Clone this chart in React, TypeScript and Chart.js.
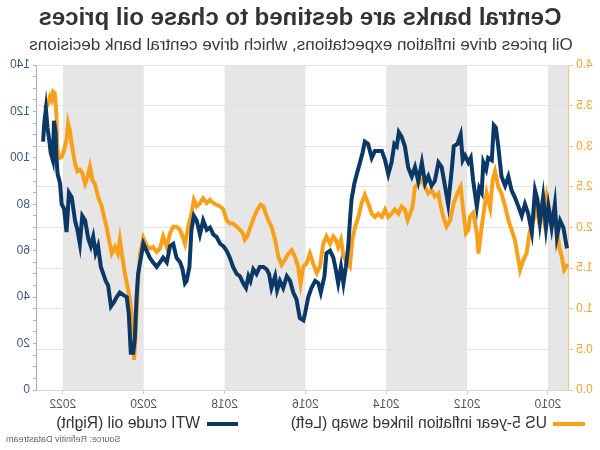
import React, { useEffect, useRef } from 'react';
import { Chart, registerables } from 'chart.js';

Chart.register(...registerables);

const titleText = 'Central banks are destined to chase oil prices';
const subtitleText = 'Oil prices drive inflation expectations, which drive central bank decisions';
const swapLabel = 'US 5-year inflation linked swap (Left)';
const oilLabel = 'WTI crude oil (Right)';
const sourceText = 'Source: Refinitiv Datastream';

const xTickYears = [2010, 2012, 2014, 2016, 2018, 2020, 2022];
const shadedPeriods = [[2008, 2010], [2012, 2014], [2016, 2018], [2020, 2022]];

const swapYears = [2009.51, 2009.6, 2009.66, 2009.72, 2009.78, 2009.87, 2009.95, 2010.03, 2010.1, 2010.16, 2010.24, 2010.28, 2010.36, 2010.45, 2010.53, 2010.61, 2010.69, 2010.76, 2010.82, 2010.9, 2010.98, 2011.06, 2011.15, 2011.23, 2011.31, 2011.37, 2011.43, 2011.52, 2011.58, 2011.64, 2011.72, 2011.76, 2011.85, 2011.93, 2011.97, 2012.03, 2012.09, 2012.16, 2012.24, 2012.33, 2012.42, 2012.51, 2012.59, 2012.67, 2012.71, 2012.8, 2012.88, 2012.96, 2013.04, 2013.12, 2013.21, 2013.29, 2013.35, 2013.41, 2013.47, 2013.54, 2013.62, 2013.7, 2013.79, 2013.87, 2013.95, 2014.03, 2014.11, 2014.2, 2014.28, 2014.36, 2014.45, 2014.53, 2014.61, 2014.69, 2014.77, 2014.84, 2014.9, 2014.98, 2015.06, 2015.12, 2015.19, 2015.25, 2015.31, 2015.39, 2015.48, 2015.56, 2015.64, 2015.72, 2015.81, 2015.89, 2015.97, 2016.05, 2016.12, 2016.18, 2016.26, 2016.34, 2016.42, 2016.51, 2016.59, 2016.67, 2016.75, 2016.84, 2016.92, 2016.98, 2017.04, 2017.11, 2017.19, 2017.27, 2017.36, 2017.44, 2017.5, 2017.55, 2017.62, 2017.7, 2017.79, 2017.87, 2017.95, 2018.03, 2018.11, 2018.2, 2018.28, 2018.36, 2018.44, 2018.53, 2018.61, 2018.69, 2018.76, 2018.82, 2018.9, 2018.98, 2019.04, 2019.1, 2019.19, 2019.27, 2019.35, 2019.43, 2019.52, 2019.6, 2019.68, 2019.77, 2019.85, 2019.93, 2020.01, 2020.09, 2020.14, 2020.18, 2020.22, 2020.24, 2020.28, 2020.34, 2020.4, 2020.47, 2020.53, 2020.59, 2020.64, 2020.71, 2020.79, 2020.86, 2020.92, 2020.98, 2021.04, 2021.13, 2021.21, 2021.27, 2021.33, 2021.39, 2021.45, 2021.52, 2021.58, 2021.64, 2021.7, 2021.77, 2021.83, 2021.87, 2021.91, 2021.97, 2022.03, 2022.1, 2022.14, 2022.16, 2022.2, 2022.24, 2022.28, 2022.32, 2022.36, 2022.4, 2022.44, 2022.47];
const swapValues = [1.55, 1.48, 1.64, 1.76, 1.97, 2.09, 2.18, 2.38, 2.09, 2.26, 2.13, 2.26, 2.09, 1.95, 1.68, 1.6, 1.48, 1.68, 1.85, 1.97, 2.09, 2.26, 2.42, 2.5, 2.69, 2.58, 2.24, 2.42, 2.22, 2.01, 1.68, 1.93, 2.18, 2.13, 1.97, 1.93, 2.18, 2.5, 2.42, 2.3, 2.09, 2.01, 2.13, 2.3, 2.42, 2.38, 2.46, 2.42, 2.5, 2.58, 2.54, 2.5, 2.26, 2.17, 2.09, 2.22, 2.26, 2.17, 2.22, 2.17, 2.13, 2.22, 2.13, 2.17, 2.13, 2.17, 2.3, 2.4, 2.3, 2.13, 2.01, 1.85, 1.52, 1.58, 1.64, 1.85, 1.76, 1.85, 1.89, 1.8, 1.89, 1.8, 1.52, 1.44, 1.56, 1.68, 1.56, 1.52, 1.31, 1.52, 1.64, 1.72, 1.68, 1.6, 1.54, 1.64, 1.85, 2.01, 2.09, 2.17, 2.26, 2.28, 2.22, 2.13, 2.01, 1.89, 1.85, 1.93, 1.97, 2.01, 2.05, 2.05, 2.09, 2.22, 2.26, 2.28, 2.3, 2.34, 2.3, 2.36, 2.3, 2.26, 2.34, 2.17, 2.01, 1.8, 1.89, 1.97, 2.01, 2.01, 1.93, 1.76, 1.89, 1.74, 1.7, 1.76, 1.74, 1.78, 1.87, 1.68, 1.35, 0.94, 0.53, 0.37, 0.86, 1.11, 1.27, 1.44, 1.64, 1.85, 1.68, 1.76, 1.68, 1.85, 2.01, 2.13, 2.26, 2.38, 2.54, 2.58, 2.75, 2.62, 2.54, 2.67, 2.71, 2.69, 2.79, 2.99, 3.2, 3.28, 3.08, 2.95, 2.87, 2.85, 2.99, 3.4, 3.65, 3.67, 3.57, 3.61, 3.53, 3.49, 3.49, 3.5];

const oilYears = [2009.53, 2009.62, 2009.7, 2009.78, 2009.83, 2009.91, 2009.99, 2010.05, 2010.12, 2010.2, 2010.26, 2010.32, 2010.4, 2010.49, 2010.57, 2010.65, 2010.73, 2010.82, 2010.9, 2010.98, 2011.06, 2011.15, 2011.23, 2011.29, 2011.34, 2011.39, 2011.48, 2011.53, 2011.6, 2011.64, 2011.7, 2011.76, 2011.85, 2011.91, 2011.97, 2012.05, 2012.11, 2012.16, 2012.24, 2012.33, 2012.38, 2012.47, 2012.55, 2012.63, 2012.71, 2012.8, 2012.88, 2012.96, 2013.04, 2013.12, 2013.21, 2013.29, 2013.37, 2013.46, 2013.54, 2013.62, 2013.69, 2013.74, 2013.8, 2013.87, 2013.95, 2014.03, 2014.11, 2014.2, 2014.28, 2014.36, 2014.45, 2014.53, 2014.59, 2014.65, 2014.73, 2014.79, 2014.86, 2014.9, 2014.94, 2015.0, 2015.06, 2015.12, 2015.19, 2015.25, 2015.31, 2015.39, 2015.48, 2015.53, 2015.62, 2015.68, 2015.76, 2015.85, 2015.93, 2016.01, 2016.05, 2016.14, 2016.22, 2016.3, 2016.38, 2016.46, 2016.55, 2016.63, 2016.7, 2016.75, 2016.84, 2016.9, 2016.96, 2017.04, 2017.13, 2017.21, 2017.29, 2017.36, 2017.41, 2017.47, 2017.54, 2017.62, 2017.7, 2017.79, 2017.87, 2017.95, 2018.03, 2018.11, 2018.2, 2018.28, 2018.36, 2018.44, 2018.53, 2018.61, 2018.69, 2018.76, 2018.82, 2018.87, 2018.94, 2018.98, 2019.04, 2019.1, 2019.19, 2019.27, 2019.35, 2019.43, 2019.52, 2019.6, 2019.68, 2019.77, 2019.85, 2019.93, 2020.01, 2020.07, 2020.14, 2020.18, 2020.22, 2020.26, 2020.32, 2020.37, 2020.42, 2020.51, 2020.59, 2020.67, 2020.73, 2020.81, 2020.88, 2020.94, 2021.0, 2021.06, 2021.13, 2021.19, 2021.25, 2021.31, 2021.37, 2021.45, 2021.52, 2021.58, 2021.64, 2021.7, 2021.78, 2021.85, 2021.91, 2021.97, 2022.03, 2022.07, 2022.13, 2022.16, 2022.18, 2022.22, 2022.25, 2022.3, 2022.34, 2022.38, 2022.42, 2022.46, 2022.49];
const oilValues = [61, 70, 73, 66, 80, 70, 79, 70, 83, 72, 82, 86, 68, 76, 80, 75, 79, 83, 86, 92, 88, 92, 105, 113, 114, 99, 100, 95, 98, 85, 87, 79, 90, 100, 98, 101, 99, 110, 106, 105, 95, 80, 88, 96, 98, 90, 88, 92, 89, 98, 90, 96, 92, 96, 105, 109, 111, 105, 106, 98, 93, 99, 103, 103, 103, 100, 106, 107, 102, 98, 93, 89, 82, 73, 62, 53, 46, 53, 46, 52, 57, 60, 59, 49, 42, 46, 47, 44, 40, 33, 30, 31, 39, 42, 47, 49, 44, 47, 43, 49, 44, 50, 52, 53, 53, 50, 52, 47, 49, 44, 46, 49, 50, 53, 57, 60, 62, 63, 66, 67, 70, 69, 73, 67, 73, 75, 69, 53, 47, 46, 52, 55, 57, 63, 62, 55, 57, 55, 53, 55, 57, 60, 63, 57, 50, 39, 22, 16, 16, 33, 40, 41, 42, 40, 38, 36, 45, 47, 50, 53, 62, 59, 66, 62, 65, 73, 75, 63, 69, 73, 83, 85, 68, 78, 80, 89, 93, 100, 111, 116, 99, 102, 108, 113, 121, 115, 107];

const FONT = '"Liberation Sans", Arial, sans-serif';
const ORANGE = '#F9A01B';
const NAVY = '#0B3866';

const decorPlugin = {
  id: 'decor',
  beforeDraw(chart: any) {
    const { ctx, chartArea: a, scales } = chart;
    const x = scales.x;
    ctx.save();
    ctx.beginPath();
    ctx.rect(a.left, a.top, a.right - a.left, a.bottom - a.top);
    ctx.clip();
    ctx.fillStyle = '#e6e6e6';
    for (const [s, e] of shadedPeriods) {
      const x0 = x.getPixelForValue(s);
      const x1 = x.getPixelForValue(e);
      ctx.fillRect(Math.min(x0, x1), a.top, Math.abs(x1 - x0), a.bottom - a.top);
    }
    ctx.restore();
  },
  afterDraw(chart: any) {
    const { ctx } = chart;
    ctx.save();
    ctx.textBaseline = 'middle';
    ctx.textAlign = 'center';
    ctx.fillStyle = '#333333';
    ctx.font = `bold 24px ${FONT}`;
    ctx.fillText(titleText, 300, 18);
    ctx.font = `17px ${FONT}`;
    ctx.fillStyle = '#3a3a3a';
    ctx.fillText(subtitleText, 299, 45);

    // legend
    ctx.lineWidth = 4;
    ctx.strokeStyle = ORANGE;
    ctx.beginPath();
    ctx.moveTo(15, 424);
    ctx.lineTo(47, 424);
    ctx.stroke();
    ctx.strokeStyle = NAVY;
    ctx.beginPath();
    ctx.moveTo(362, 424);
    ctx.lineTo(393, 424);
    ctx.stroke();
    ctx.textAlign = 'left';
    ctx.font = `15.7px ${FONT}`;
    ctx.fillStyle = '#333333';
    ctx.fillText(swapLabel, 53, 424);
    ctx.fillText(oilLabel, 400, 424);

    ctx.textAlign = 'right';
    ctx.font = `9px ${FONT}`;
    ctx.fillStyle = '#666666';
    ctx.fillText(sourceText, 594, 440);
    ctx.restore();
  },
};

export default function App() {
  const ref = useRef<HTMLCanvasElement | null>(null);
  useEffect(() => {
    if (!ref.current) return;
    const chart = new Chart(ref.current, {
      type: 'line',
      data: {
        datasets: [
          {
            label: swapLabel,
            data: swapYears.map((y, i) => ({ x: y, y: swapValues[i] })),
            borderColor: ORANGE,
            backgroundColor: ORANGE,
            borderWidth: 4,
            pointRadius: 0,
            tension: 0,
            yAxisID: 'y',
            order: 1,
          },
          {
            label: oilLabel,
            data: oilYears.map((y, i) => ({ x: y, y: oilValues[i] })),
            borderColor: NAVY,
            backgroundColor: NAVY,
            borderWidth: 4,
            pointRadius: 0,
            tension: 0,
            yAxisID: 'y1',
            order: 0,
          },
        ],
      },
      options: {
        responsive: false,
        animation: false,
        layout: { padding: { top: 65, bottom: 34, left: 0, right: 0 } },
        plugins: {
          legend: { display: false },
          tooltip: { enabled: false },
          title: { display: false },
        },
        scales: {
          x: {
            type: 'linear',
            min: 2009.48,
            max: 2022.64,
            afterBuildTicks: (scale: any) => {
              scale.ticks = xTickYears.map((v) => ({ value: v }));
            },
            afterFit: (scale: any) => {
              scale.height = 26;
            },
            grid: { drawOnChartArea: false, tickLength: 4, tickColor: '#c8c8c8', color: '#c8c8c8' },
            border: { display: true, color: '#d8d8d8' },
            ticks: {
              color: '#555555',
              font: { family: FONT, size: 12 },
              callback: (v: any) => String(v),
              maxRotation: 0,
              autoSkip: false,
              padding: 3,
            },
          },
          y: {
            position: 'left',
            min: 0,
            max: 4,
            afterFit: (scale: any) => {
              scale.width = 31;
            },
            ticks: {
              stepSize: 0.5,
              color: '#F2A533',
              font: { family: FONT, size: 12 },
              callback: (v: any) => Number(v).toFixed(1),
              padding: 3,
            },
            grid: { color: '#e2e2e2', tickLength: 4, tickColor: '#F7C57F', lineWidth: 1 },
            border: { color: '#F7C57F' },
          },
          y1: {
            position: 'right',
            min: 0,
            max: 140,
            afterFit: (scale: any) => {
              scale.width = 37;
            },
            ticks: {
              stepSize: 5,
              autoSkip: false,
              color: '#3C5A82',
              font: { family: FONT, size: 12 },
              callback: (v: any) => (Number(v) % 20 === 0 ? String(v) : ''),
              padding: 3,
            },
            grid: { drawOnChartArea: false, tickLength: 4, tickColor: '#9FB0C8' },
            border: { color: '#9FB0C8' },
          },
        },
      },
      plugins: [decorPlugin],
    } as any);
    return () => chart.destroy();
  }, []);
  return (
    <div
      style={{
        position: 'absolute',
        left: 0,
        top: 0,
        width: 600,
        height: 450,
        background: '#ffffff',
        transform: 'scaleX(-1)',
      }}
    >
      <canvas ref={ref} width={600} height={450} style={{ width: 600, height: 450, display: 'block' }} />
    </div>
  );
}
